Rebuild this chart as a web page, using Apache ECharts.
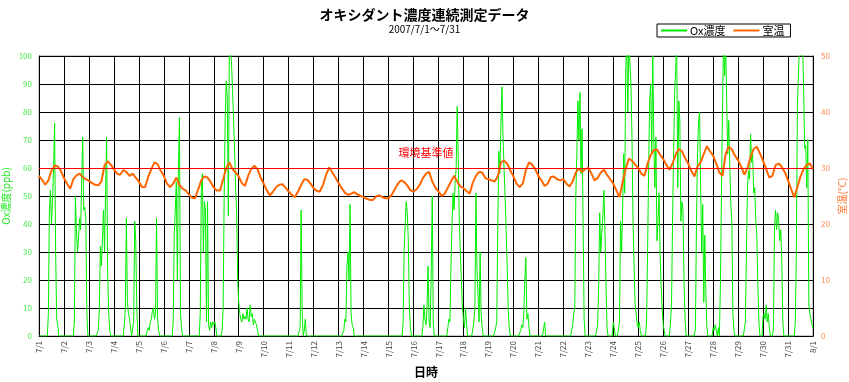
<!DOCTYPE html>
<html>
<head>
<meta charset="utf-8">
<script src="https://cdn.jsdelivr.net/npm/echarts@6/dist/echarts.min.js"></script>
<style>
html,body{margin:0;padding:0;background:#fff;}
#chart{width:849px;height:382px;}
</style>
</head>
<body>
<div id="chart"></div>
<script>
// Day labels for the x axis (one per 24 h)
const dayLabels = ['7/1','7/2','7/3','7/4','7/5','7/6','7/7','7/8','7/9','7/10','7/11','7/12','7/13','7/14','7/15','7/16','7/17','7/18','7/19','7/20','7/21','7/22','7/23','7/24','7/25','7/26','7/27','7/28','7/29','7/30','7/31','8/1'];

// Ox concentration (ppb), hourly, 7/1 0:00 -> 8/1 0:00
const oxHourly = [
  0,0,0,0,0,0,0,0,0,8,45,52,40,48,60,76,30,6,4,0,0,0,0,0,          // 7/1
  0,0,0,0,0,0,0,0,0,0,5,50,38,30,35,42,38,55,71,45,46,42,8,0,      // 7/2
  0,0,0,0,0,0,0,0,0,2,10,32,25,35,45,30,52,71,22,8,2,0,0,0,        // 7/3
  0,0,0,0,0,0,0,0,0,0,4,10,42,12,8,6,3,0,0,5,41,34,10,0,           // 7/4
  0,0,0,0,0,0,0,0,2,3,2,5,6,9,10,6,8,42,6,2,0,0,0,0,               // 7/5
  0,0,0,0,0,0,0,0,0,5,36,45,55,20,60,78,8,3,0,0,0,0,0,0,           // 7/6
  0,0,0,0,0,0,0,0,0,0,0,8,52,58,30,48,45,5,48,4,2,5,3,5,           // 7/7
  4,5,3,0,0,0,0,0,2,10,50,78,91,85,43,105,105,98,88,78,66,53,44,20,// 7/8
  12,8,6,5,8,6,7,6,10,6,5,11,7,8,4,6,5,4,2,0,0,0,0,0,              // 7/9
  0,0,0,0,0,0,0,0,0,0,0,0,0,0,0,0,0,0,0,0,0,0,0,0,                 // 7/10
  0,0,0,0,0,0,0,0,0,0,0,3,45,8,0,2,6,0,0,0,0,0,0,0,                // 7/11
  0,0,0,0,0,0,0,0,0,0,0,0,0,0,0,0,0,0,0,0,0,0,0,0,                 // 7/12
  0,0,0,0,0,2,6,5,25,30,20,47,8,4,3,0,0,0,0,0,0,0,0,0,             // 7/13
  0,0,0,0,0,0,0,0,0,0,0,0,0,0,0,0,0,0,0,0,0,0,0,0,                 // 7/14
  0,0,0,0,0,0,0,0,0,0,0,0,0,0,5,31,40,48,44,34,10,3,0,0,           // 7/15
  0,0,0,0,0,0,0,0,0,3,11,6,4,10,25,5,3,22,50,4,0,0,0,0,            // 7/16
  0,0,0,0,0,0,0,0,0,3,6,5,25,40,51,45,55,60,82,63,41,30,20,10,     // 7/17
  6,3,10,4,0,0,0,0,0,0,5,10,51,24,15,5,30,8,3,0,0,0,0,0,           // 7/18
  0,0,0,0,0,0,0,3,5,40,66,58,75,89,72,60,50,38,25,10,3,0,0,0,      // 7/19
  0,0,0,0,0,0,0,2,4,3,8,20,28,6,8,3,0,0,0,0,0,0,0,0,               // 7/20
  0,0,0,0,0,0,5,0,0,0,0,0,0,0,0,0,0,0,0,0,0,0,0,0,                 // 7/21
  0,0,0,0,0,0,0,0,0,4,8,10,50,65,84,70,87,58,74,41,6,0,0,0,        // 7/22
  0,0,0,0,0,0,0,0,0,4,18,44,30,37,43,52,38,19,3,0,0,0,0,0,         // 7/23
  5,3,0,0,0,0,5,41,30,45,65,51,95,105,80,105,105,90,71,41,25,11,8,4, // 7/24
  3,5,2,0,0,0,0,0,5,30,60,84,90,65,100,70,53,71,34,41,51,30,18,10, // 7/25
  4,2,0,0,0,0,0,5,11,41,65,87,95,105,53,84,77,41,48,45,20,6,0,0,   // 7/26
  0,0,0,0,0,0,0,3,41,65,77,80,53,30,47,12,36,15,3,0,0,0,0,0,       // 7/27
  3,2,4,2,0,3,0,18,51,81,105,93,105,105,65,77,61,47,41,8,2,0,0,0,  // 7/28
  0,0,0,0,0,0,0,5,30,53,59,56,72,62,65,51,53,41,36,18,5,0,0,0,     // 7/29
  7,8,6,11,5,8,3,0,0,0,3,39,45,38,44,41,34,38,27,5,0,0,0,0,        // 7/30
  0,0,0,0,0,0,0,5,30,82,93,105,105,100,105,88,67,68,53,70,11,8,6,4,// 7/31
  3                                                                // 8/1 0:00
];

// Room temperature (deg C), every 3 h, 7/1 0:00 -> 8/1 0:00
const tempStepHours = 3;
const temp3h = [
  28.6,27.9,27.0,27.8,29.5,30.4,30.3,29.5, // 7/1
  28.2,27.2,26.3,28.0,28.7,29.0,28.4,28.0, // 7/2
  27.7,27.3,27.0,26.9,27.6,30.5,31.2,30.6, // 7/3
  29.8,29.0,28.8,29.6,29.3,28.6,29.0,28.3, // 7/4
  27.6,26.6,26.6,28.4,29.8,31.0,30.7,29.5, // 7/5
  28.6,27.2,26.6,27.2,28.3,27.0,26.3,26.0, // 7/6
  25.3,24.7,24.6,26.2,27.8,28.5,28.3,27.5, // 7/7
  26.5,26.0,26.0,28.0,30.0,31.0,29.8,29.2, // 7/8
  28.5,27.3,26.8,28.6,29.8,30.4,29.8,28.3, // 7/9
  27.2,26.0,25.1,25.8,26.6,27.0,27.1,26.5, // 7/10
  25.8,25.2,24.8,25.8,27.0,28.0,27.9,27.2, // 7/11
  26.4,25.9,25.8,27.0,28.8,30.1,29.2,28.3, // 7/12
  27.3,26.4,25.6,25.2,25.4,25.7,25.3,25.0, // 7/13
  24.8,24.5,24.3,24.3,24.9,25.1,24.8,24.6, // 7/14
  24.6,25.2,26.2,27.2,27.8,27.5,26.9,26.0, // 7/15
  25.8,26.2,27.0,28.2,29.0,29.3,27.6,26.5, // 7/16
  25.8,25.0,25.4,26.5,27.6,28.6,27.6,26.7, // 7/17
  26.4,25.9,25.4,27.4,28.6,29.3,29.2,28.2, // 7/18
  28.0,27.8,27.6,28.5,31.0,31.3,30.8,29.6, // 7/19
  28.5,27.2,26.6,27.2,29.6,31.0,30.6,29.8, // 7/20
  28.6,27.8,26.8,27.2,28.4,28.5,28.0,27.8, // 7/21
  28.0,27.2,26.7,27.6,29.2,29.9,29.3,29.8, // 7/22
  30.0,29.0,27.8,28.2,29.2,29.7,28.8,28.0, // 7/23
  27.2,26.0,24.8,27.5,29.8,31.7,31.3,30.6, // 7/24
  30.0,29.0,28.6,30.8,32.3,33.2,33.3,32.4, // 7/25
  31.6,30.6,29.7,30.8,32.4,33.4,33.0,31.8, // 7/26
  30.8,29.5,28.5,30.3,31.0,32.5,33.9,33.0, // 7/27
  32.2,30.8,29.2,28.6,32.5,33.8,33.3,32.2, // 7/28
  31.4,30.2,28.8,30.0,32.0,33.4,33.8,32.6, // 7/29
  31.3,29.8,28.3,28.6,30.5,30.8,30.2,29.2, // 7/30
  27.8,26.2,24.8,26.6,28.5,29.8,30.6,30.8, // 7/31
  29.8                                      // 8/1 0:00
];

const standardValue = 60; // 環境基準値 (ppb)

const oxData = oxHourly.map((v, i) => [i, v]);
const tempData = temp3h.map((v, i) => [i * tempStepHours, v]);

const FONT = '"Noto Sans CJK JP", "Noto Sans", sans-serif';
const chart = echarts.init(document.getElementById('chart'), null, {renderer: 'canvas'});
chart.setOption({
  animation: false,
  backgroundColor: '#ffffff',
  textStyle: {fontFamily: FONT},
  title: {
    text: 'オキシダント濃度連続測定データ',
    subtext: '2007/7/1～7/31',
    left: 'center',
    top: 3,
    itemGap: 2,
    textStyle: {fontFamily: FONT, fontSize: 14, fontWeight: 'bold', color: '#000'},
    subtextStyle: {fontFamily: FONT, fontSize: 10, color: '#000'}
  },
  legend: {
    left: 657, top: 24,
    padding: [1, 6, 1, 4],
    borderColor: '#000', borderWidth: 1,
    icon: 'rect',
    itemWidth: 26, itemHeight: 2, itemGap: 8,
    textStyle: {fontFamily: FONT, fontSize: 11, color: '#000', padding: [0, 0, 0, -2]},
    data: ['Ox濃度', '室温']
  },
  grid: {
    left: 39, right: 36, top: 56, bottom: 46,
    outerBoundsMode: 'none', containLabel: false,
    show: true, borderColor: '#999', borderWidth: 1
  },
  xAxis: {
    type: 'value', min: 0, max: 744, interval: 24,
    name: '日時', nameLocation: 'middle', nameGap: 30, nameMoveOverlap: false,
    nameTextStyle: {fontFamily: FONT, fontSize: 12, fontWeight: 'bold', color: '#000'},
    axisLine: {show: true, lineStyle: {color: '#000', width: 1}},
    axisTick: {show: false},
    splitLine: {show: true, lineStyle: {color: '#000', width: 1}},
    axisLabel: {
      rotate: 90, fontSize: 8, color: '#444', margin: 5, fontFamily: FONT,
      formatter: v => dayLabels[Math.round(v / 24)]
    }
  },
  yAxis: [
    {
      type: 'value', min: 0, max: 100, interval: 10,
      name: 'Ox濃度(ppb)', nameLocation: 'middle', nameGap: 28, nameMoveOverlap: false,
      nameTextStyle: {fontFamily: FONT, fontSize: 10, color: '#22ee22'},
      axisLine: {show: true, lineStyle: {color: '#000'}},
      axisTick: {show: false},
      axisLabel: {fontSize: 8, color: '#44ee44', margin: 7, fontFamily: FONT},
      splitLine: {show: true, lineStyle: {color: '#000', width: 1}}
    },
    {
      type: 'value', min: 0, max: 50, interval: 10,
      name: '室温(℃)', nameLocation: 'middle', nameGap: 24, nameMoveOverlap: false,
      nameTextStyle: {fontFamily: FONT, fontSize: 10, color: '#ff7733'},
      axisLine: {show: true, lineStyle: {color: '#000'}},
      axisTick: {show: false},
      axisLabel: {fontSize: 8, color: '#ff8855', margin: 8, fontFamily: FONT},
      splitLine: {show: false}
    }
  ],
  series: [
    {
      name: 'Ox濃度', type: 'line', yAxisIndex: 0,
      data: oxData, symbol: 'none', showSymbol: false, clip: true,
      lineStyle: {color: '#00ee00', width: 1},
      itemStyle: {color: '#00ee00'},
      markLine: {
        silent: true, symbol: ['none', 'none'],
        lineStyle: {color: '#ff0000', width: 1, type: 'solid'},
        label: {
          show: true, position: 'insideMiddleTop', distance: 10,
          formatter: '環境基準値', color: '#ff0000', fontSize: 11, fontFamily: FONT
        },
        data: [{yAxis: standardValue}]
      }
    },
    {
      name: '室温', type: 'line', yAxisIndex: 1,
      data: tempData, symbol: 'none', showSymbol: false,
      lineStyle: {color: '#ff6600', width: 2},
      itemStyle: {color: '#ff6600'}
    }
  ]
});
</script>
</body>
</html>
